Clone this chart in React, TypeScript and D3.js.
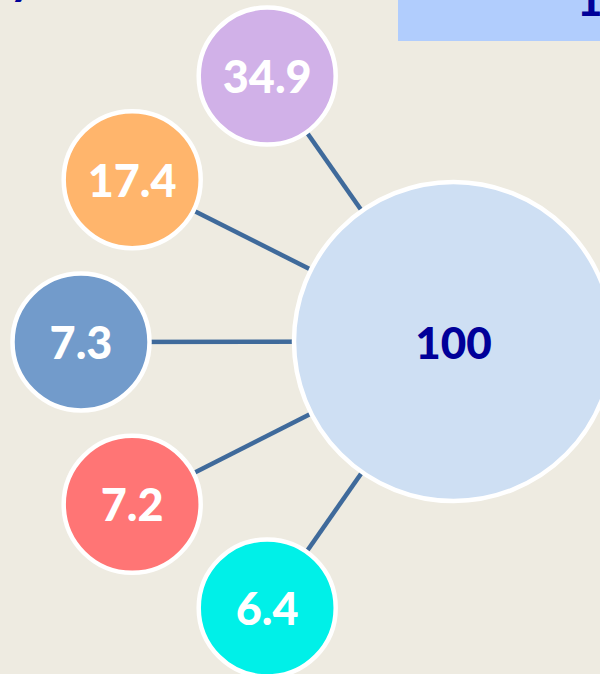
import React from 'react';
import * as d3 from 'd3';

// satellite values, top to bottom
const values = [34.9, 17.4, 7.3, 7.2, 6.4];
const centerValue = 100;

const COLORS = ['#d1b1e8', '#ffb56c', '#729bcb', '#ff7575', '#00f0e8'];
const CENTER_FILL = '#cedff3';
const BG = '#eeebe1';
const LINK = '#3f6a9b';
const DARK = '#000099';

const W = 600;
const H = 674;

export default function App() {
  const hub = { x: 453.5, y: 341.5, r: 159.5 };
  const orbit = { x: 364, y: 342, r: 283 };
  const satR = 68.5;
  const font = 'Lato, "Open Sans", sans-serif';

  // angle (deg, from the left, up positive) for each satellite
  const angle = d3.scalePoint<number>()
    .domain(d3.range(values.length))
    .range([70, -70]);

  const nodes = values.map((v, i) => {
    const a = ((angle(i) ?? 0) * Math.PI) / 180;
    return {
      value: v,
      color: COLORS[i],
      x: orbit.x - orbit.r * Math.cos(a),
      y: orbit.y - orbit.r * Math.sin(a),
    };
  });

  const link = d3.line<[number, number]>();

  return (
    <svg
      width={W}
      height={H}
      style={{ position: 'absolute', left: 0, top: 0, display: 'block' }}
    >
      <rect width={W} height={H} fill={BG} />

      {/* cut-off title / header box */}
      <text x={10} y={-5} fontFamily={font} fontWeight={900} fontSize={44} fill={DARK}>y</text>
      <rect x={398} y={0} width={202} height={41} fill="#b1cdfd" />
      <text x={577} y={16} fontFamily={font} fontWeight={900} fontSize={44} fill={DARK}>1</text>

      {nodes.map((n, i) => (
        <path
          key={'l' + i}
          d={link([[n.x, n.y], [hub.x, hub.y]]) ?? ''}
          stroke={LINK}
          strokeWidth={4.5}
          fill="none"
        />
      ))}

      <circle cx={hub.x} cy={hub.y} r={hub.r} fill={CENTER_FILL} stroke="#fff" strokeWidth={4.5} />
      <text
        x={hub.x}
        y={hub.y}
        textAnchor="middle"
        dominantBaseline="central"
        fontFamily={font}
        fontWeight={900}
        fontSize={44}
        fill={DARK}
      >
        {centerValue}
      </text>

      {nodes.map((n, i) => (
        <g key={'n' + i}>
          <circle cx={n.x} cy={n.y} r={satR} fill={n.color} stroke="#fff" strokeWidth={4.5} />
          <text
            x={n.x}
            y={n.y}
            textAnchor="middle"
            dominantBaseline="central"
            fontFamily={font}
            fontWeight={900}
            fontSize={45}
            fill="#fff"
          >
            {n.value}
          </text>
        </g>
      ))}
    </svg>
  );
}
